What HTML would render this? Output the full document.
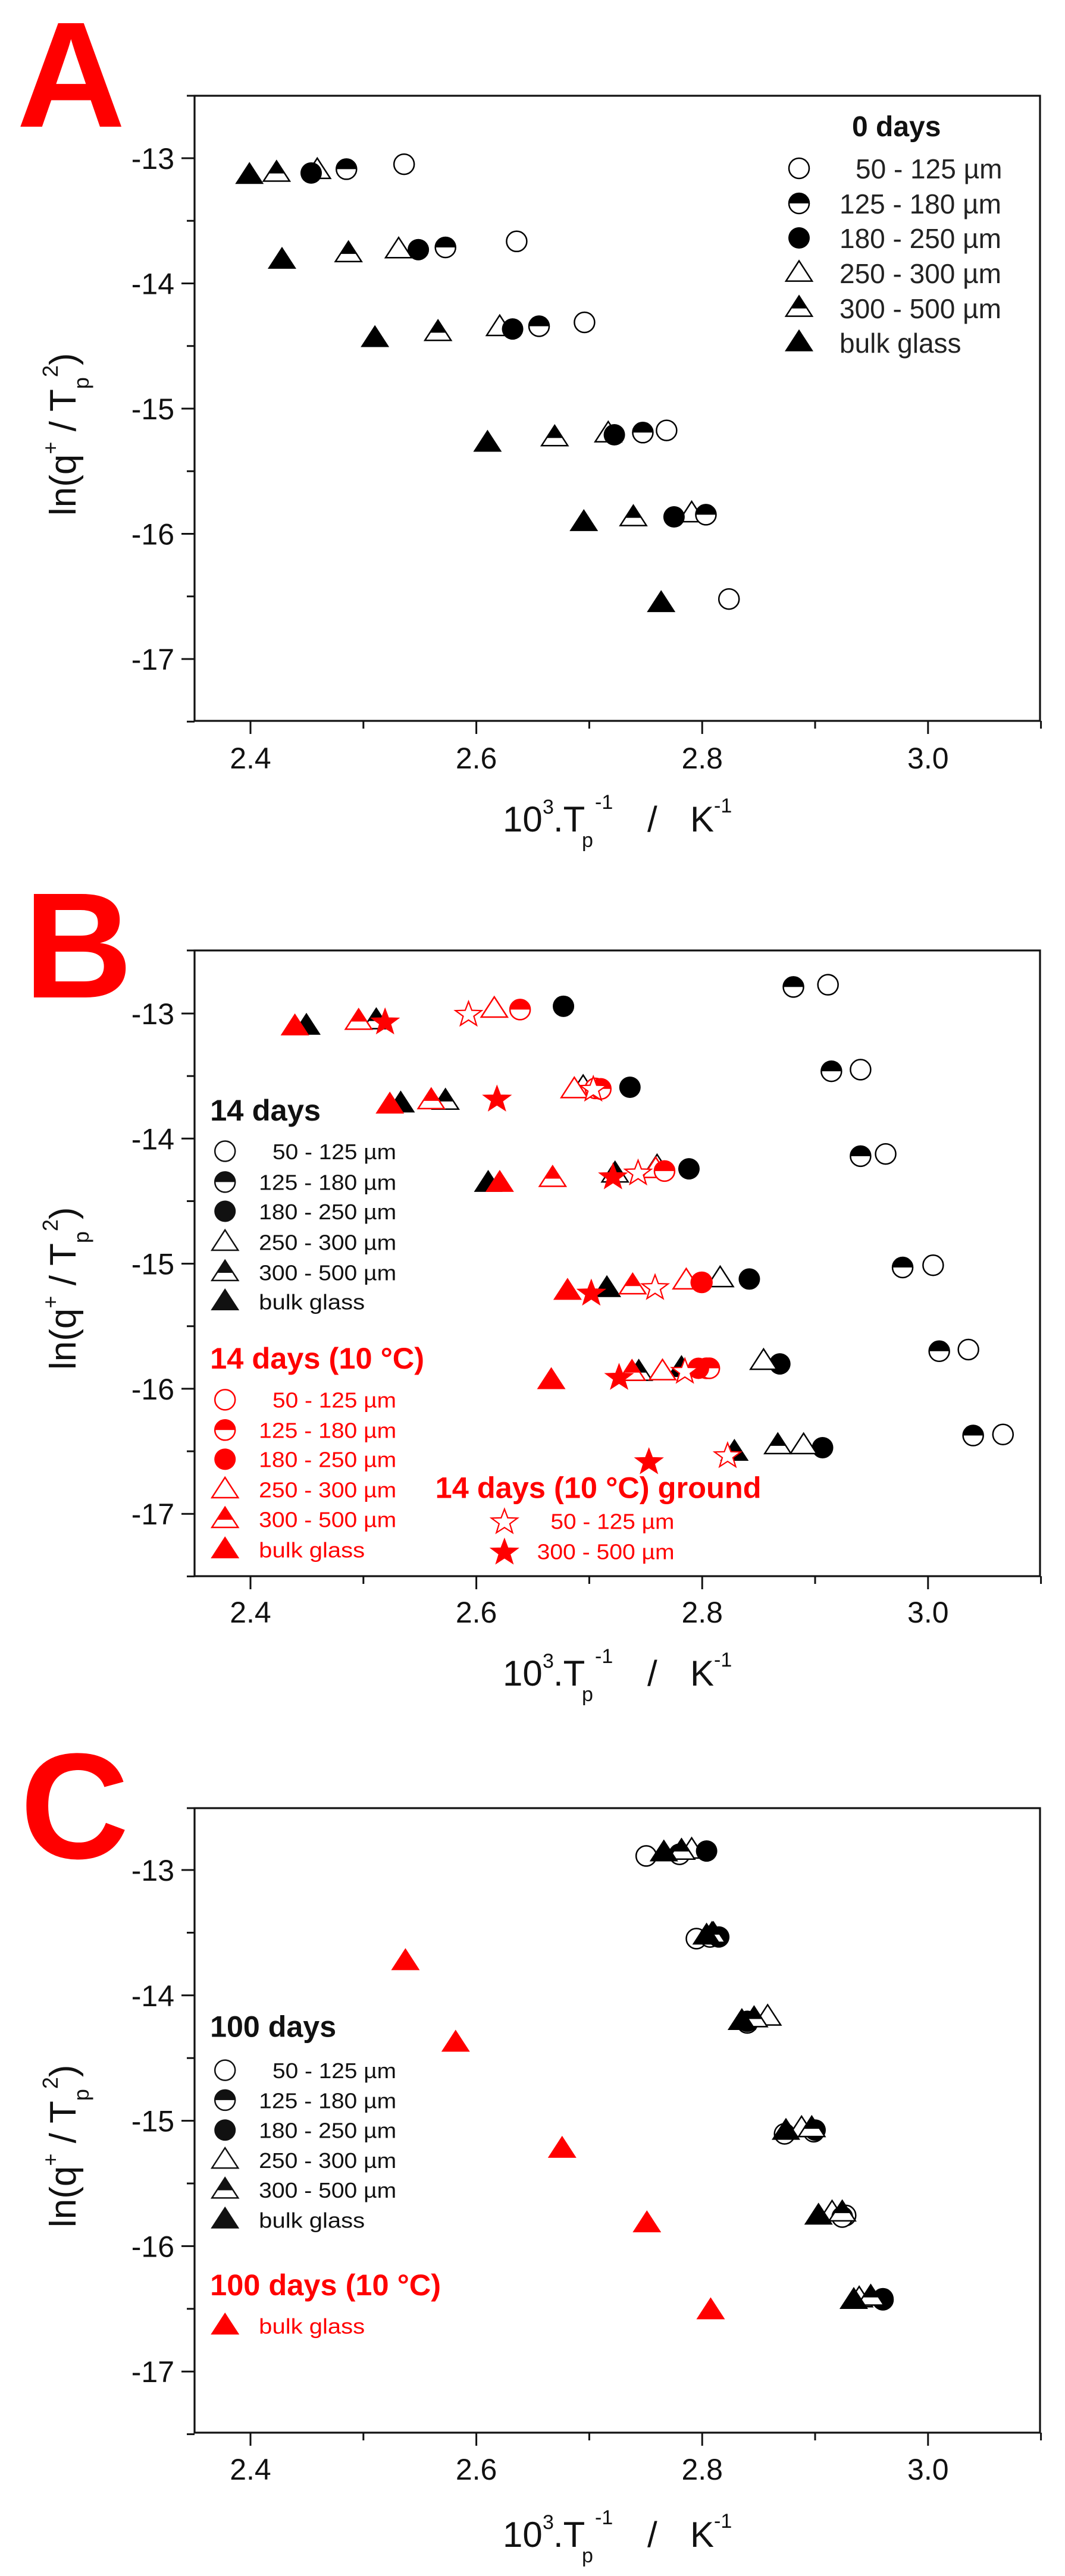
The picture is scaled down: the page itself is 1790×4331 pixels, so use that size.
<!DOCTYPE html>
<html><head><meta charset="utf-8"><style>
html,body{margin:0;padding:0;background:#fff;}
svg{display:block;}
text{font-family:"Liberation Sans",Arial,sans-serif;}
</style></head><body>
<svg id="s" xmlns="http://www.w3.org/2000/svg" width="1790" height="4331" viewBox="0 0 1790 4331"></svg>
<script>
var S=document.getElementById('s');var out='';
var RED='#ff0000';
function X(xd){return 2+1.14*xd;}
function mk(t,c,x,y){
  var r=17,w=22,h=34,s='';
  var ty=y-h*0.6, by=y+h*0.4;
  if(t=='oc') s='<circle cx="'+x+'" cy="'+y+'" r="'+r+'" fill="#fff" stroke="'+c+'" stroke-width="2.5"/>';
  else if(t=='fc') s='<circle cx="'+x+'" cy="'+y+'" r="'+(r+1)+'" fill="'+c+'"/>';
  else if(t=='hc') s='<circle cx="'+x+'" cy="'+y+'" r="'+r+'" fill="#fff" stroke="'+c+'" stroke-width="2.5"/><path d="M'+(x-r)+','+y+' A'+r+','+r+' 0 0 1 '+(x+r)+','+y+' Z" fill="'+c+'"/>';
  else if(t=='ot') s='<polygon points="'+x+','+ty+' '+(x+w)+','+by+' '+(x-w)+','+by+'" fill="#fff" stroke="'+c+'" stroke-width="2.5"/>';
  else if(t=='ft') s='<polygon points="'+x+','+(ty-2)+' '+(x+w+2)+','+(by+1)+' '+(x-w-2)+','+(by+1)+'" fill="'+c+'"/>';
  else if(t=='ht'){var my=ty+h*0.62, f=0.62;
    s='<polygon points="'+x+','+ty+' '+(x+w)+','+by+' '+(x-w)+','+by+'" fill="#fff" stroke="'+c+'" stroke-width="2.5"/><polygon points="'+x+','+ty+' '+(x+w*f)+','+my+' '+(x-w*f)+','+my+'" fill="'+c+'"/>';}
  else if(t=='os'||t=='fs'){var p=[];for(var i=0;i<10;i++){var a=-Math.PI/2+i*Math.PI/5,rr=(i%2?9:22);p.push((x+rr*Math.cos(a)*1.05).toFixed(1)+','+(y+2+rr*Math.sin(a)).toFixed(1));}
    s='<polygon points="'+p.join(' ')+'" fill="'+(t=='fs'?c:'#fff')+'" stroke="'+c+'" stroke-width="2.2"/>';}
  return s;
}
function txt(x,y,s,size,c,extra){return '<text x="'+x+'" y="'+y+'" font-size="'+size+'" fill="'+c+'" '+(extra||'')+'>'+s+'</text>';}
function axes(top,bot,y13,unit,xtb,titleBase,ytc){
  var L=327,R=1748,o='';
  o+='<rect x="'+L+'" y="'+top+'" width="'+(R-L)+'" height="'+(bot-top)+'" fill="none" stroke="#111" stroke-width="3.2"/>';
  function xv(v){return 421+(v-2.4)*1898;}
  for(var v=2.4;v<3.15;v+=0.1){var xx=xv(v),maj=Math.round(v*10)%2==0;
    o+='<line x1="'+xx+'" y1="'+bot+'" x2="'+xx+'" y2="'+(bot+(maj?22:13))+'" stroke="#111" stroke-width="3"/>';
    if(maj) o+=txt(xx,xtb,v.toFixed(1),50,'#111','text-anchor="middle"');}
  for(var k=-13;k>=-17.5;k-=0.5){var yy=y13+(-13-k)*unit,maj=(k%1==0);
    o+='<line x1="'+L+'" y1="'+yy+'" x2="'+(L-(maj?22:13))+'" y2="'+yy+'" stroke="#111" stroke-width="3"/>';
    if(maj) o+=txt(293,yy+18,String(k),50,'#111','text-anchor="end"');}
  o+='<line x1="'+L+'" y1="'+(top)+'" x2="'+(L-13)+'" y2="'+top+'" stroke="#111" stroke-width="3"/>';
  // x title
  var b=titleBase;
  o+=txt(845,b,'10',60,'#111')+txt(912,b-30,'3',34,'#111')+txt(930,b,'.T',60,'#111')+txt(978,b+26,'p',34,'#111')+txt(1000,b-38,'-1',34,'#111')+txt(1088,b,'/',60,'#111')+txt(1160,b,'K',60,'#111')+txt(1200,b-32,'-1',34,'#111');
  // y title
  o+='<g transform="translate(127,'+ytc+') rotate(-90)"><text x="-130" y="0" font-size="62" fill="#111">ln(q<tspan font-size="36" dy="-30">+</tspan><tspan dy="30"> / T</tspan><tspan font-size="36" dy="22">p</tspan><tspan font-size="36" dy="-52">2</tspan><tspan dy="30">)</tspan></text></g>';
  return o;
}
function pts(list,t,c,off,sy){var o='';list.forEach(function(p){o+=mk(t,c,X(p[0]),off+sy*p[1]);});return o;}
function legend(items,c,sx,xs,off,sy,size,tl){var o='';items.forEach(function(it){var y=off+sy*it[2];o+=mk(it[0],c,X(sx),y);
  o+=txt(X(it[3]),y+size*0.37,it[1],size,c,tl?'textLength="'+(it[4]||0)+'" lengthAdjust="spacingAndGlyphs"':'');});return o;}
var MU='\u00b5m';
// ---------- Panel A ----------
var sy=0.9265,off=0;
out+=txt(28,213,'A',253,RED,'font-weight="bold"');
out+=axes(161,1212,266,210.5,1292,1398,737);
out+=pts([[594,298],[760,438],[860,585],[981,781],[1073,1087]],'oc','#000',off,sy);
out+=pts([[466,309],[586,453],[735,594],[895,787],[1018,932]],'ot','#000',off,sy);
out+=pts([[509,307],[655,449],[793,592],[946,785],[1039,934]],'hc','#000',off,sy);
out+=pts([[457,314],[615,453],[754,597],[904,789],[992,938]],'fc','#000',off,sy);
out+=pts([[406,314],[512,460],[644,603],[816,794],[932,939]],'ht','#000',off,sy);
out+=pts([[366,318],[414,472],[551,614],[717,804],[859,948],[973,1095]],'ft','#000',off,sy);
out+=txt(1432,229,'0 days',48,'#111','font-weight="bold"');
[['oc','50 - 125 '+MU,283,1438],['hc','125 - 180 '+MU,342,1411],['fc','180 - 250 '+MU,400,1411],['ot','250 - 300 '+MU,459,1411],['ht','300 - 500 '+MU,518,1411],['ft','bulk glass',576,1411]].forEach(function(it){
  out+=mk(it[0],'#000',1343,it[2]);out+=txt(it[3],it[2]+17,it[1],46,'#222');});
// ---------- Panel B ----------
off=1450;sy=0.9265;
out+=txt(40,1677,'B',253,RED,'font-weight="bold"');
out+=axes(1598,2650,1704,210.3,2728,2834,2173);
out+=pts([[1219,222],[1267,376],[1304,529],[1374,731],[1426,884],[1477,1038]],'oc','#000',off,sy);
out+=pts([[1168,226],[1224,379],[1267,533],[1329,735],[1383,887],[1433,1040]],'hc','#000',off,sy);
out+=pts([[829,261],[927,408],[1014,556],[1103,756],[1148,910],[1211,1062]],'fc','#000',off,sy);
out+=pts([[858,408],[967,552],[1060,755],[1124,905],[1183,1058]],'ot','#000',off,sy);
out+=pts([[553,287],[655,433],[905,565],[940,925],[1145,1058]],'ht','#000',off,sy);
out+=pts([[450,297],[589,438],[718,582],[893,773],[1003,918],[1081,1070]],'ft','#000',off,sy);
out+=pts([[727,266],[845,412],[965,557],[1010,759],[975,924]],'ot',RED,off,sy);
out+=pts([[876,410],[1040,918]],'oc',RED,off,sy);
out+=pts([[765,267],[884,411],[978,560],[1033,762],[1044,918]],'hc',RED,off,sy);
out+=pts([[1032,762],[1028,918]],'fc',RED,off,sy);
out+=pts([[527,288],[634,432],[813,573],[931,768],[930,925]],'ht',RED,off,sy);
out+=pts([[433,298],[573,440],[735,582],[835,778],[811,940]],'ft',RED,off,sy);
out+=pts([[689,274],[873,410],[939,562],[964,770],[1008,922],[1071,1075]],'os',RED,off,sy);
out+=pts([[566,288],[731,428],[902,569],[870,780],[911,933],[955,1086]],'fs',RED,off,sy);
out+=txt(X(308),off+sy*450+17,'14 days',50,'#111','font-weight="bold" textLength="186" lengthAdjust="spacingAndGlyphs"');
var blk=[['oc','50 - 125 '+MU,524,400,208],['hc','125 - 180 '+MU,580,380,231],['fc','180 - 250 '+MU,633,380,231],['ot','250 - 300 '+MU,689,380,231],['ht','300 - 500 '+MU,744,380,231],['ft','bulk glass',797,380,178]];
out+=legend(blk,'#111',330,0,off,sy,36,true);
out+=txt(X(308),off+sy*900+17,'14 days (10 \u00b0C)',50,RED,'font-weight="bold" textLength="360" lengthAdjust="spacingAndGlyphs"');
var red=[['oc','50 - 125 '+MU,975,400,208],['hc','125 - 180 '+MU,1030,380,231],['fc','180 - 250 '+MU,1083,380,231],['ot','250 - 300 '+MU,1138,380,231],['ht','300 - 500 '+MU,1192,380,231],['ft','bulk glass',1247,380,178]];
out+=legend(red,RED,330,0,off,sy,36,true);
out+=txt(X(640),off+sy*1135+17,'14 days (10 \u00b0C) ground',50,RED,'font-weight="bold" textLength="548" lengthAdjust="spacingAndGlyphs"');
out+=legend([['os','50 - 125 '+MU,1195,810,208],['fs','300 - 500 '+MU,1250,790,231]],RED,742,0,off,sy,36,true);
// ---------- Panel C ----------
off=2900;sy=0.9144;
out+=txt(34,3124,'C',253,RED,'font-weight="bold"');
out+=axes(3040,4090,3144,210.8,4169,4282,3615);
out+=pts([[951,241],[1025,393],[1155,752],[1245,902]],'oc','#000',off,sy);
out+=pts([[1018,230],[1050,385],[1130,537],[1180,742],[1225,897],[1265,1055]],'ot','#000',off,sy);
out+=pts([[1000,238],[1045,390],[1100,548],[1198,748],[1240,905],[1300,1057]],'hc','#000',off,sy);
out+=pts([[1040,232],[1058,390],[1100,545],[1200,745],[1300,1055]],'fc','#000',off,sy);
out+=pts([[1003,232],[1048,385],[1110,540],[1195,742],[1240,897],[1282,1052]],'ht','#000',off,sy);
out+=pts([[977,235],[1040,388],[1092,545],[1157,747],[1205,903],[1257,1058]],'ft','#000',off,sy);
out+=pts([[596,435],[670,585],[827,780],[952,917],[1046,1077]],'ft',RED,off,sy);
out+=txt(X(308),off+sy*555+17,'100 days',50,'#111','font-weight="bold" textLength="212" lengthAdjust="spacingAndGlyphs"');
var c1=[['oc','50 - 125 '+MU,635,400,208],['hc','125 - 180 '+MU,690,380,231],['fc','180 - 250 '+MU,745,380,231],['ot','250 - 300 '+MU,800,380,231],['ht','300 - 500 '+MU,855,380,231],['ft','bulk glass',910,380,178]];
out+=legend(c1,'#111',330,0,off,sy,36,true);
out+=txt(X(308),off+sy*1030+17,'100 days (10 \u00b0C)',50,RED,'font-weight="bold" textLength="388" lengthAdjust="spacingAndGlyphs"');
out+=legend([['ft','bulk glass',1105,380,178]],RED,330,0,off,sy,36,true);
S.innerHTML=out;
</script>
</body></html>
